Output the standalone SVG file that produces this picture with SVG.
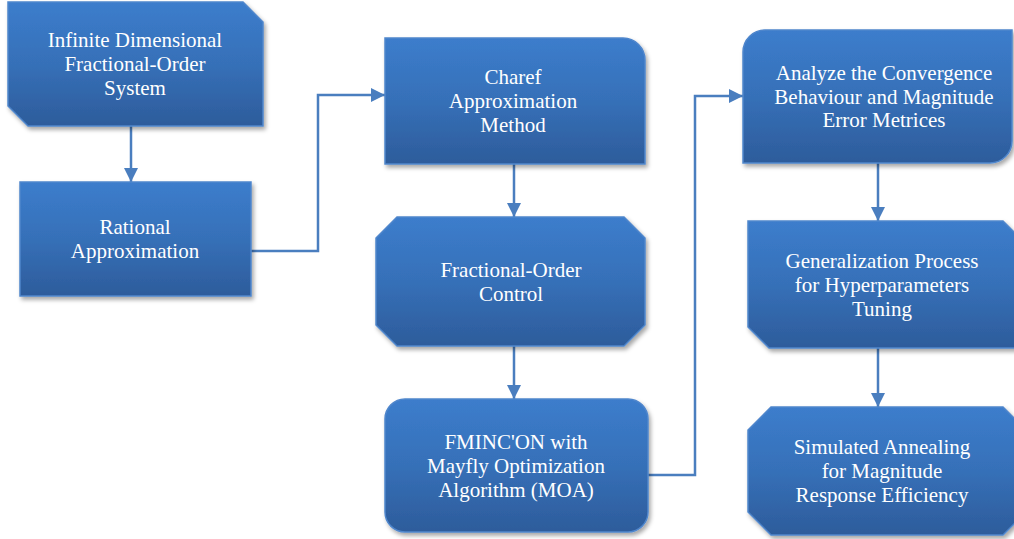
<svg xmlns="http://www.w3.org/2000/svg" width="1014" height="539" viewBox="0 0 1014 539">
<defs>
<linearGradient id="g" x1="0" y1="0" x2="0" y2="1">
<stop offset="0" stop-color="#3c7dcc"/>
<stop offset="0.5" stop-color="#3670b8"/>
<stop offset="1" stop-color="#2d5c9b"/>
</linearGradient>
<filter id="sh" x="-10%" y="-10%" width="130%" height="130%">
<feDropShadow dx="2" dy="3" stdDeviation="2" flood-color="#000" flood-opacity="0.35"/>
</filter>
<marker id="ah" markerUnits="userSpaceOnUse" viewBox="0 0 14 14" markerWidth="14" markerHeight="14" refX="14" refY="7" orient="auto">
<path d="M0,0 L14,7 L0,14 Z" fill="#4a7ebf"/>
</marker>
<style>
.box{fill:url(#g);stroke:#4f86cc;stroke-width:1.5;filter:url(#sh)}
.t{font-family:"Liberation Serif","Times New Roman",serif;font-size:21px;fill:#fff;text-anchor:middle}
.c{fill:none;stroke:#4a7ebf;stroke-width:2.5;marker-end:url(#ah)}
</style>
</defs>
<g id="connectors">
<path class="c" d="M131,126 L131,182"/>
<path class="c" d="M251,251 L318,251 L318,95 L385,95"/>
<path class="c" d="M514,164 L514,217"/>
<path class="c" d="M514,346 L514,399"/>
<path class="c" d="M648,475 L695,475 L695,96 L743,96"/>
<path class="c" d="M878,163 L878,221"/>
<path class="c" d="M878,348 L878,407"/>
</g>
<g id="n1">
<path class="box" d="M8,2 L243,2 L263,22 L263,126 L28,126 L8,106 Z"/>
<text class="t" x="135" y="47">Infinite Dimensional</text>
<text class="t" x="135" y="71">Fractional-Order</text>
<text class="t" x="135" y="95">System</text>
</g>
<g id="n2">
<rect class="box" x="20" y="182" width="231" height="114"/>
<text class="t" x="135" y="234">Rational</text>
<text class="t" x="135" y="258">Approximation</text>
</g>
<g id="n3">
<path class="box" d="M385,38 L623,38 A22,22 0 0 1 645,60 L645,164 L385,164 Z"/>
<text class="t" x="513" y="84">Charef</text>
<text class="t" x="513" y="108">Approximation</text>
<text class="t" x="513" y="132">Method</text>
</g>
<g id="n4">
<path class="box" d="M397,217 L624,217 L645,238 L645,325 L624,346 L397,346 L376,325 L376,238 Z"/>
<text class="t" x="511" y="277">Fractional-Order</text>
<text class="t" x="511" y="301">Control</text>
</g>
<g id="n5">
<rect class="box" x="385" y="399" width="263" height="133" rx="20" ry="20"/>
<text class="t" x="516" y="449">FMINC'ON with</text>
<text class="t" x="516" y="473">Mayfly Optimization</text>
<text class="t" x="516" y="497">Algorithm (MOA)</text>
</g>
<g id="n6">
<path class="box" d="M765,30 L1012,30 L1012,141 A22,22 0 0 1 990,163 L743,163 L743,52 A22,22 0 0 1 765,30 Z"/>
<text class="t" x="884" y="80">Analyze the Convergence</text>
<text class="t" x="884" y="104">Behaviour and Magnitude</text>
<text class="t" x="884" y="127">Error Metrices</text>
</g>
<g id="n7">
<path class="box" d="M748,221 L1003,221 L1024,242 L1024,348 L769,348 L748,327 Z"/>
<text class="t" x="882" y="268">Generalization Process</text>
<text class="t" x="882" y="292">for Hyperparameters</text>
<text class="t" x="882" y="316">Tuning</text>
</g>
<g id="n8">
<path class="box" d="M771,407 L1003,407 L1026,430 L1026,512 L1003,535 L771,535 L748,512 L748,430 Z"/>
<text class="t" x="882" y="454">Simulated Annealing</text>
<text class="t" x="882" y="478">for Magnitude</text>
<text class="t" x="882" y="502">Response Efficiency</text>
</g>
</svg>
